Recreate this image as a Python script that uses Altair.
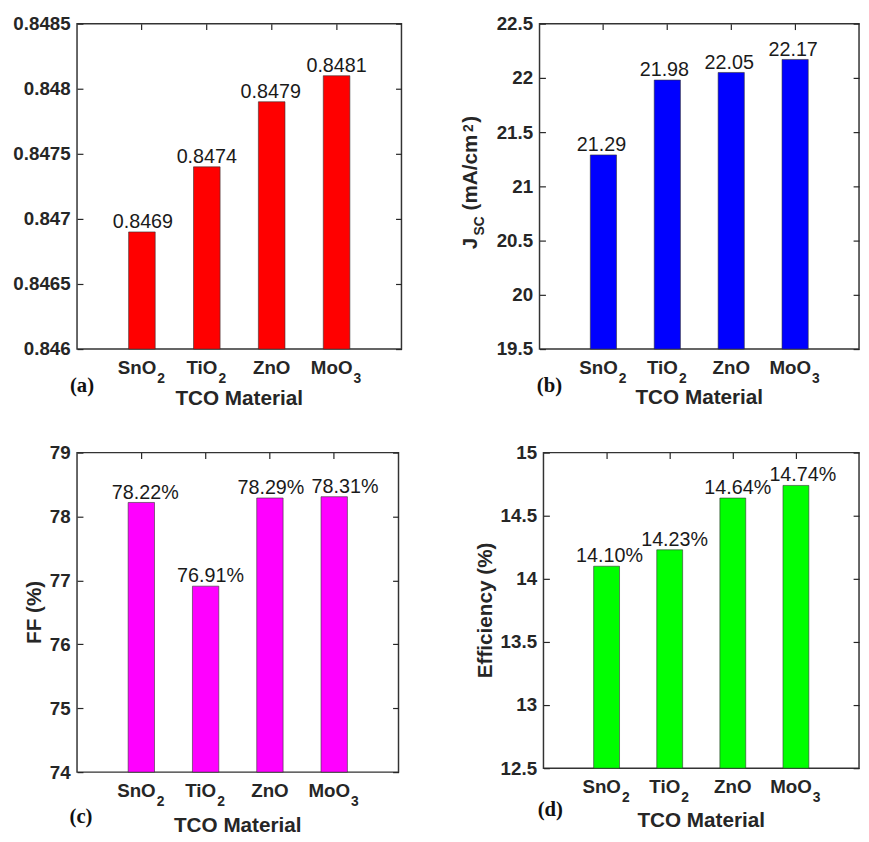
import altair as alt
import pandas as pd

materials = ["SnO₂", "TiO₂", "ZnO", "MoO₃"]
label_main = ["SnO", "TiO", "ZnO", "MoO"]
label_sub = ["2", "2", "", "3"]
voc = [0.8469, 0.8474, 0.8479, 0.8481]
jsc = [21.29, 21.98, 22.05, 22.17]
ff = [78.22, 76.91, 78.29, 78.31]
eff = [14.10, 14.23, 14.64, 14.74]

voc_ticks = [0.846, 0.8465, 0.847, 0.8475, 0.848, 0.8485]
jsc_ticks = [19.5, 20, 20.5, 21, 21.5, 22, 22.5]
ff_ticks = [74, 75, 76, 77, 78, 79]
eff_ticks = [12.5, 13, 13.5, 14, 14.5, 15]

# horizontal nudges (px) of the value labels, as placed in the original figure
voc_nudge = [1, 0, -1, 0]
jsc_nudge = [-2, -3, -2, -2]
ff_nudge = [4, 5, 1, 11]
eff_nudge = [3, 5, 5, 7]

SANS = "Liberation Sans"
SERIF = "Liberation Serif"
DARK = "#262626"
T = 6  # inward tick length
# rough Arial-bold advance widths (em) for the x-label main parts
EM = {"S": .667, "n": .611, "O": .778, "T": .611, "i": .278, "Z": .611, "M": .833, "o": .611}


def note(text, x, y, size=21, font=SANS, weight="bold", angle=0, color=DARK):
    return alt.Chart(pd.DataFrame({"t": [text]})).mark_text(
        font=font, fontSize=size, fontWeight=weight, angle=angle, color=color,
        align="center", baseline="middle",
    ).encode(x=alt.value(x), y=alt.value(y), text="t:N")


def xscale():
    return alt.Scale(type="band", domain=materials, paddingInner=0.59, paddingOuter=0.795)


def xlabel_layers(H):
    out = []
    for mat, main, sub in zip(materials, label_main, label_sub):
        mw = sum(EM[c] for c in main) * 19
        shift = -5 if sub else 0
        out.append(alt.Chart(pd.DataFrame({"t": [main]})).mark_text(
            font=SANS, fontSize=19, fontWeight="bold", color=DARK,
            align="center", baseline="middle", dx=shift,
        ).encode(x=alt.X(datum=mat, type="nominal", scale=xscale(), axis=None),
                 y=alt.value(H + 19), text="t:N"))
        if sub:
            out.append(alt.Chart(pd.DataFrame({"t": [sub]})).mark_text(
                font=SANS, fontSize=14, fontWeight="bold", color=DARK,
                align="left", baseline="middle", dx=shift + mw / 2 + 1,
            ).encode(x=alt.X(datum=mat, type="nominal", scale=xscale(), axis=None),
                     y=alt.value(H + 30), text="t:N"))
    return out


def panel(values, fmt, suffix, nudge, color, domain, ticks, W, H, ext, letter, lx, ly, ty,
          ylabel_layers):
    df = pd.DataFrame({"m": materials, "v": values})
    df["lab"] = [format(v, fmt) + suffix for v in values]
    ys = alt.Scale(domain=domain, zero=False, nice=False)
    bars = alt.Chart(df).mark_bar(color=color, stroke="#333333", strokeWidth=0.6).encode(
        x=alt.X("m:N", scale=xscale(), sort=materials, axis=None),
        y=alt.Y("v:Q", scale=ys, axis=alt.Axis(
            orient="left", title=None, values=ticks, format="~g", offset=-T, tickSize=T,
            tickColor=DARK, tickWidth=1.2, domain=False, grid=False,
            minExtent=ext + T, maxExtent=ext + T, labelPadding=7,
            labelFont=SANS, labelFontSize=19, labelFontWeight="bold", labelColor=DARK)),
        y2=alt.datum(domain[0]),
    )
    frame_axes = alt.Chart(df).mark_point(opacity=0).encode(
        x=alt.X("m:N", scale=xscale(), sort=materials, axis=alt.Axis(
            orient="top", title=None, labels=False, domain=False, offset=-T, tickSize=T,
            tickColor=DARK, tickWidth=1.2, minExtent=0, maxExtent=0)),
        y=alt.Y("v:Q", scale=ys, axis=alt.Axis(
            orient="right", title=None, labels=False, values=ticks, domain=False, grid=False,
            offset=-T, tickSize=T, tickColor=DARK, tickWidth=1.2, minExtent=0, maxExtent=0)),
    )
    layers = [bars, frame_axes]
    for i in range(len(materials)):
        layers.append(alt.Chart(df.iloc[[i]]).mark_text(
            font=SANS, fontSize=20, color="#1a1a1a", baseline="alphabetic", dy=-4, dx=nudge[i],
        ).encode(
            x=alt.X("m:N", scale=xscale(), axis=None),
            y=alt.Y("v:Q", scale=ys, axis=None),
            text="lab:N",
        ))
    layers += xlabel_layers(H) + ylabel_layers
    layers.append(note(letter, lx, H + ly, size=21, font=SERIF, color="#111111"))
    layers.append(note("TCO Material", W / 2, H + ty))
    return alt.layer(*layers).resolve_scale(x="independent", y="independent").resolve_axis(
        x="independent", y="independent").properties(width=W, height=H)


W1, H1 = 329, 330
W2, H2 = 324, 330
W3, H3 = 326, 324
W4, H4 = 320, 320

pa = panel(voc, ".4f", "", voc_nudge, "#ff0000", [0.846, 0.8485], voc_ticks, W1, H1, 69,
           "(a)", 5, 38, 51, [])

jsc_title = [
    note("J", -69, H2 / 2 + 58, angle=270),
    note("SC", -60, H2 / 2 + 40, size=14, angle=270),
    note("(mA/cm", -69, H2 / 2 - 14, angle=270),
    note("2", -71, H2 / 2 - 59, size=14, angle=270),
    note(")", -69, H2 / 2 - 68, angle=270),
]
pb = panel(jsc, ".2f", "", jsc_nudge, "#0000ff", [19.5, 22.5], jsc_ticks, W2, H2, 90,
           "(b)", 10, 38, 50, jsc_title)

pc = panel(ff, ".2f", "%", ff_nudge, "#ff00ff", [74, 79], ff_ticks, W3, H3, 69,
           "(c)", 4, 46, 55, [note("FF (%)", -43, H3 / 2, angle=270)])

pd_ = panel(eff, ".2f", "%", eff_nudge, "#00ff00", [12.5, 15], eff_ticks, W4, H4, 90,
            "(d)", 7, 43, 54, [note("Efficiency (%)", -58, H4 / 2, angle=270)])

row1 = alt.hconcat(pa, pb, spacing=47)
row2 = alt.hconcat(pc, pd_, spacing=54)
chart = alt.vconcat(row1, row2, spacing=33).properties(padding=0).configure_view(
    stroke="#333333", strokeWidth=1.5)

chart.save("out.html", embed_options={"renderer": "svg", "actions": False})
